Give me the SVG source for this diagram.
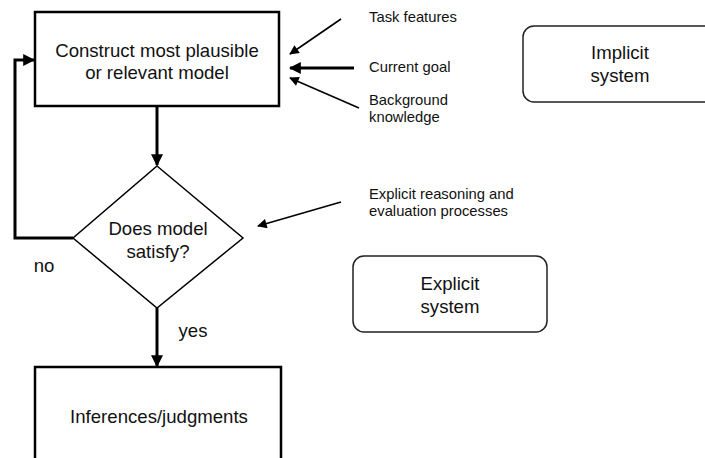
<svg xmlns="http://www.w3.org/2000/svg" width="705" height="458" viewBox="0 0 705 458">
<style>
text{font-family:"Liberation Sans",Arial,sans-serif;fill:#111;}
.big{font-size:18.6px;text-anchor:middle;}
.sm{font-size:14.8px;}
.box{fill:#fff;stroke:#000;stroke-width:2.5;}
.rbox{fill:#fff;stroke:#222;stroke-width:1.5;}
.thick{fill:none;stroke:#000;stroke-width:3;}
.thin{fill:none;stroke:#000;stroke-width:1.6;}
</style>
<defs>
<marker id="ah" viewBox="0 0 10 10" refX="9" refY="5" markerWidth="4" markerHeight="4" orient="auto" markerUnits="strokeWidth"><path d="M0,0 L10,5 L0,10 z" fill="#000"/></marker>
<marker id="ah2" viewBox="0 0 10 10" refX="9" refY="5" markerWidth="7" markerHeight="6" orient="auto" markerUnits="strokeWidth"><path d="M0,0 L10,5 L0,10 z" fill="#000"/></marker>
</defs>
<rect width="705" height="458" fill="#fff"/>
<g id="construct"><rect class="box" x="35" y="12" width="244" height="94"/>
<text class="big" x="157" y="57">Construct most plausible</text><text class="big" x="157" y="79">or relevant model</text></g>
<g id="decision"><polygon points="157,166 243,238 157,308 73,238" fill="#fff" stroke="#000" stroke-width="1.5"/>
<text class="big" x="158" y="235">Does model</text><text class="big" x="158" y="258">satisfy?</text></g>
<g id="inferences"><rect class="box" x="35" y="367" width="246" height="100"/>
<text class="big" x="159" y="423">Inferences/judgments</text></g>
<g id="implicit"><rect class="rbox" x="523" y="26" width="200" height="76" rx="11"/>
<text class="big" x="620" y="59">Implicit</text><text class="big" x="620" y="82">system</text></g>
<g id="explicit"><rect class="rbox" x="353" y="256" width="194" height="76" rx="11"/>
<text class="big" x="450" y="290">Explicit</text><text class="big" x="450" y="313">system</text></g>
<g id="labels">
<text class="sm" x="369" y="22">Task features</text>
<text class="sm" x="369" y="72">Current goal</text>
<text class="sm" x="369" y="105">Background</text>
<text class="sm" x="369" y="122">knowledge</text>
<text class="sm" x="369" y="199">Explicit reasoning and</text>
<text class="sm" x="369" y="216">evaluation processes</text>
<text class="big" x="44" y="272">no</text>
<text class="big" x="193" y="337">yes</text>
</g>
<g id="connectors">
<line class="thick" x1="157" y1="106" x2="157" y2="165" marker-end="url(#ah)"/>
<line class="thick" x1="157" y1="308" x2="157" y2="366" marker-end="url(#ah)"/>
<polyline class="thick" points="73,238 15,238 15,60 34,60" marker-end="url(#ah)"/>
<line class="thin" x1="341" y1="19" x2="290" y2="54" marker-end="url(#ah2)"/>
<line class="thick" x1="354" y1="68" x2="290" y2="68" marker-end="url(#ah)"/>
<line class="thin" x1="359" y1="108" x2="290" y2="78" marker-end="url(#ah2)"/>
<line class="thin" x1="341" y1="202" x2="258" y2="226" marker-end="url(#ah2)"/>
</g>
</svg>
